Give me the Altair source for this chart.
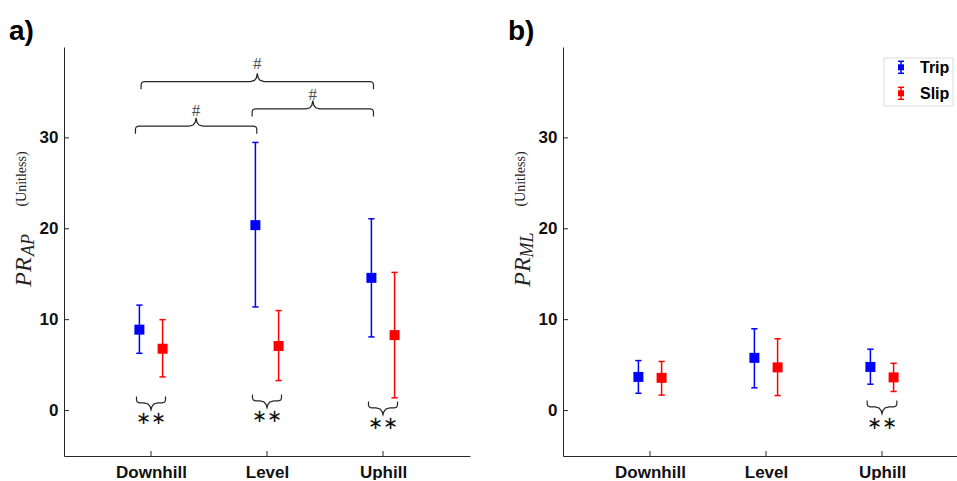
import altair as alt
import pandas as pd

# ---------------- data ----------------
conditions = ["Downhill", "Level", "Uphill"]
groups = ["Trip", "Slip"]
group_colors = ["#0000ff", "#ff0000"]
group_offsets = [-0.1, 0.1]

# panel a) PR_AP
ap_trip_mean = [8.9, 20.4, 14.6]
ap_trip_low = [6.3, 11.4, 8.1]
ap_trip_high = [11.6, 29.5, 21.1]
ap_slip_mean = [6.8, 7.1, 8.3]
ap_slip_low = [3.7, 3.3, 1.4]
ap_slip_high = [10.0, 11.0, 15.2]

# panel b) PR_ML
ml_trip_mean = [3.7, 5.8, 4.8]
ml_trip_low = [1.9, 2.5, 2.9]
ml_trip_high = [5.5, 9.0, 6.75]
ml_slip_mean = [3.6, 4.75, 3.65]
ml_slip_low = [1.7, 1.65, 2.1]
ml_slip_high = [5.4, 7.9, 5.2]

# between-condition significance braces (panel a), "#"
hash_x0 = [0.915, 1.872, 0.866]
hash_x1 = [2.918, 2.918, 1.912]
hash_line = [36.2, 33.2, 31.3]
hash_label = [38.1, 34.7, 33.0]

# trip vs slip braces, "**"
a_star_center = [1.0, 2.0, 3.0]
a_star_line = [0.84, 1.06, 0.29]
a_star_label = [-0.96, -0.7, -1.48]
b_star_center = [3.0]
b_star_line = [0.4]
b_star_label = [-1.44]

y_ticks = [0, 10, 20, 30]
x_ticks = [1, 2, 3]

H = 409
WA = 406
WB = 394
UNIT = WA / 3.5
AXC = "#262626"


def points_df(trip_m, trip_l, trip_h, slip_m, slip_l, slip_h):
    rows = []
    series = {"Trip": (trip_m, trip_l, trip_h), "Slip": (slip_m, slip_l, slip_h)}
    for gi, g in enumerate(groups):
        m, lo, hi = series[g]
        for ci, c in enumerate(conditions):
            x = ci + 1 + group_offsets[gi]
            rows.append({"cond": c, "group": g, "x": x, "xl": x - 0.027,
                         "xr": x + 0.027, "mean": m[ci], "low": lo[ci], "high": hi[ci]})
    return pd.DataFrame(rows)


def brace_df(x0s, x1s, lines, end_dy, peak_dy, prefix):
    rows = []
    for bi, (x0, x1, yl) in enumerate(zip(x0s, x1s, lines)):
        xc = (x0 + x1) / 2
        s = 1 if peak_dy > 0 else -1
        pts = [
            (x0, yl + end_dy),
            (x0, yl - s * 0.3),
            (x0 + 0.007, yl - s * 0.1),
            (x0 + 0.026, yl),
            (xc - 0.06, yl),
            (xc - 0.025, yl + s * 0.12),
            (xc - 0.008, yl + s * 0.4),
            (xc, yl + peak_dy),
            (xc + 0.008, yl + s * 0.4),
            (xc + 0.025, yl + s * 0.12),
            (xc + 0.06, yl),
            (x1 - 0.026, yl),
            (x1 - 0.007, yl - s * 0.1),
            (x1, yl - s * 0.3),
            (x1, yl + end_dy),
        ]
        for k, (px, py) in enumerate(pts):
            rows.append({"b": f"{prefix}{bi}", "k": k, "bx": px, "by": py})
    return pd.DataFrame(rows)


one = pd.DataFrame({"k": [0]})


def panel(df, width, xmax, label, sub, braces, star_centers, star_lines, star_labels,
          hashes=None, legend=False):
    xs = alt.Scale(domain=[0.25, xmax], nice=False, zero=False)
    ys = alt.Scale(domain=[-5, 40], nice=False, zero=False)
    color = alt.Color("group:N", scale=alt.Scale(domain=groups, range=group_colors), legend=None)

    base = alt.Chart(df)
    xaxis = alt.Axis(values=x_ticks, labelExpr="['Downhill','Level','Uphill'][datum.value-1]",
                     title=None, grid=False, ticks=False, labelPadding=8)
    yaxis = alt.Axis(values=y_ticks, title=None, grid=False, ticks=False, labelPadding=6)

    stems = base.mark_rule(strokeWidth=1.5).encode(
        x=alt.X("x:Q", scale=xs, axis=xaxis),
        y=alt.Y("low:Q", scale=ys, axis=yaxis),
        y2="high:Q", color=color)
    caps_lo = base.mark_rule(strokeWidth=1.5).encode(
        x=alt.X("xl:Q", scale=xs), x2="xr:Q", y=alt.Y("low:Q", scale=ys), color=color)
    caps_hi = base.mark_rule(strokeWidth=1.5).encode(
        x=alt.X("xl:Q", scale=xs), x2="xr:Q", y=alt.Y("high:Q", scale=ys), color=color)
    squares = base.mark_square(size=100, opacity=1, filled=True).encode(
        x=alt.X("x:Q", scale=xs), y=alt.Y("mean:Q", scale=ys), color=color)

    layers = []
    # braces
    br = alt.Chart(braces).mark_line(color=AXC, strokeWidth=1.2, interpolate="linear").encode(
        x=alt.X("bx:Q", scale=xs), y=alt.Y("by:Q", scale=ys), detail="b:N", order="k:Q")
    layers.append(br)

    stars = pd.DataFrame({"sx": star_centers, "sy": star_labels})
    layers.append(alt.Chart(stars).mark_text(text="∗∗", font="DejaVu Sans", fontSize=18,
                                             color="#111111", baseline="middle").encode(
        x=alt.X("sx:Q", scale=xs), y=alt.Y("sy:Q", scale=ys)))
    if hashes is not None:
        layers.append(alt.Chart(hashes).mark_text(text="#", font="Liberation Serif", fontSize=17,
                                                  color="#4d4d4d",
                                                  baseline="middle").encode(
            x=alt.X("hx:Q", scale=xs), y=alt.Y("hy:Q", scale=ys)))

    layers += [stems, caps_lo, caps_hi, squares]

    # inward ticks
    yt = pd.DataFrame({"t": y_ticks})
    layers.append(alt.Chart(yt).mark_rule(color=AXC, strokeWidth=1).encode(
        y=alt.Y("t:Q", scale=ys), x=alt.value(0), x2=alt.value(5)))
    xt = pd.DataFrame({"t": x_ticks})
    layers.append(alt.Chart(xt).mark_rule(color=AXC, strokeWidth=1).encode(
        x=alt.X("t:Q", scale=xs), y=alt.value(H), y2=alt.value(H - 5)))

    # panel label
    layers.append(alt.Chart(one).mark_text(text=label, font="Liberation Sans", fontSize=28,
                                           fontWeight="bold", align="left",
                                           baseline="alphabetic", color="#000000").encode(
        x=alt.value(-55), y=alt.value(-7)))
    # y title pieces (rotated)
    layers.append(alt.Chart(one).mark_text(text="(Unitless)", font="Liberation Serif",
                                           fontSize=14, angle=270, align="center",
                                           baseline="alphabetic", color="#222222").encode(
        x=alt.value(-38), y=alt.value(132)))
    layers.append(alt.Chart(one).mark_text(text="PR", font="Liberation Serif", fontSize=24,
                                           fontStyle="italic", angle=270, align="center",
                                           baseline="alphabetic", color="#222222").encode(
        x=alt.value(-33), y=alt.value(225)))
    layers.append(alt.Chart(one).mark_text(text=sub, font="Liberation Serif", fontSize=18,
                                           fontStyle="italic", angle=270, align="center",
                                           baseline="alphabetic", color="#222222").encode(
        x=alt.value(-30), y=alt.value(198)))

    if legend:
        layers.append(alt.Chart(one).mark_rect(fill="white", stroke="#dcdcdc",
                                               strokeWidth=1).encode(
            x=alt.value(321), x2=alt.value(390), y=alt.value(11), y2=alt.value(59)))
        for gi, g in enumerate(groups):
            cy = 20.3 + 26 * gi
            col = group_colors[gi]
            layers.append(alt.Chart(one).mark_rule(color=col, strokeWidth=1.5).encode(
                x=alt.value(338), y=alt.value(cy - 6), y2=alt.value(cy + 6)))
            for dy in (-6, 6):
                layers.append(alt.Chart(one).mark_rule(color=col, strokeWidth=1.5).encode(
                    x=alt.value(335), x2=alt.value(341), y=alt.value(cy + dy)))
            layers.append(alt.Chart(one).mark_square(color=col, filled=True, size=36,
                                                     opacity=1).encode(
                x=alt.value(338), y=alt.value(cy)))
            layers.append(alt.Chart(one).mark_text(text=g, font="Liberation Sans", fontSize=16,
                                                   fontWeight="bold", align="left",
                                                   baseline="middle", color="#000000").encode(
                x=alt.value(357), y=alt.value(cy + 1)))

    return alt.layer(*layers).properties(width=width, height=H)


df_a = points_df(ap_trip_mean, ap_trip_low, ap_trip_high, ap_slip_mean, ap_slip_low, ap_slip_high)
df_b = points_df(ml_trip_mean, ml_trip_low, ml_trip_high, ml_slip_mean, ml_slip_low, ml_slip_high)

top_braces = brace_df(hash_x0, hash_x1, hash_line, -0.85, 0.9, "h")
hashes = pd.DataFrame({"hx": [(a + b) / 2 for a, b in zip(hash_x0, hash_x1)], "hy": hash_label})
a_star_braces = brace_df([c - 0.125 for c in a_star_center], [c + 0.125 for c in a_star_center],
                         a_star_line, 0.7, -0.75, "s")
a_braces = pd.concat([top_braces, a_star_braces], ignore_index=True)
b_braces = brace_df([c - 0.128 for c in b_star_center], [c + 0.128 for c in b_star_center],
                    b_star_line, 0.7, -0.75, "s")

pa = panel(df_a, WA, 3.75, "a)", "AP", a_braces, a_star_center, a_star_line, a_star_label,
           hashes=hashes)
pb = panel(df_b, WB, 0.25 + WB / UNIT, "b)", "ML", b_braces, b_star_center, b_star_line,
           b_star_label, legend=True)

chart = alt.hconcat(pa, pb, spacing=38).properties(
    padding={"left": 9, "top": 18, "right": 0, "bottom": 0}
).configure_view(stroke=None).configure_axis(
    labelFont="Liberation Sans", labelFontWeight="bold", labelFontSize=17,
    labelColor="#111111", domainColor=AXC, domainWidth=1
).configure_concat(spacing=38)

chart.save("out.html", embed_options={"renderer": "svg", "actions": False})
